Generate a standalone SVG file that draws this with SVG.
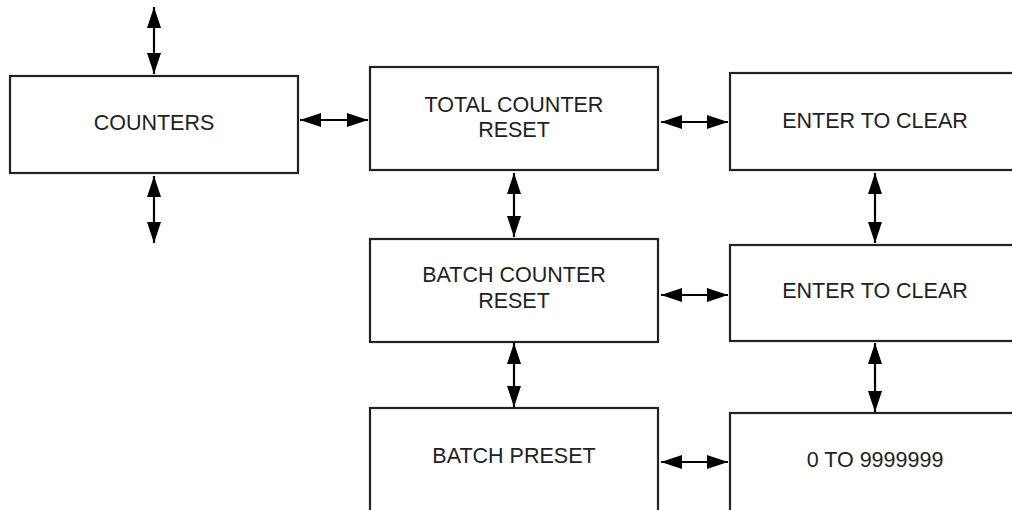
<svg xmlns="http://www.w3.org/2000/svg" width="1012" height="510" viewBox="0 0 1012 510">
<style>
.box{fill:#fff;stroke:#222;stroke-width:2.2}
.lbl{font-family:"Liberation Sans",Arial,sans-serif;font-size:21.5px;fill:#222;text-anchor:middle}
.con{stroke:#000;stroke-width:2.2;fill:none;marker-start:url(#ah);marker-end:url(#ah)}
</style>
<defs>
<marker id="ah" viewBox="0 0 21 14" refX="21" refY="7" markerWidth="21" markerHeight="14" markerUnits="userSpaceOnUse" orient="auto-start-reverse">
<path d="M0,0 L21,7 L0,14 z" fill="#000"/>
</marker>
</defs>
<rect width="1012" height="510" fill="#fff"/>
<g id="counters"><rect class="box" x="10" y="76" width="288" height="97"/><text class="lbl" x="154" y="130">COUNTERS</text></g>
<g id="total-reset"><rect class="box" x="370" y="67" width="288" height="103"/><text class="lbl" x="514" y="112">TOTAL COUNTER</text><text class="lbl" x="514" y="137">RESET</text></g>
<g id="enter1"><rect class="box" x="730" y="73" width="292" height="97"/><text class="lbl" x="875" y="128">ENTER TO CLEAR</text></g>
<g id="batch-reset"><rect class="box" x="370" y="239" width="288" height="103"/><text class="lbl" x="514" y="282">BATCH COUNTER</text><text class="lbl" x="514" y="308">RESET</text></g>
<g id="enter2"><rect class="box" x="730" y="245" width="292" height="96"/><text class="lbl" x="875" y="298">ENTER TO CLEAR</text></g>
<g id="batch-preset"><rect class="box" x="370" y="408" width="288" height="110"/><text class="lbl" x="514" y="463">BATCH PRESET</text></g>
<g id="range"><rect class="box" x="730" y="413" width="292" height="110"/><text class="lbl" x="875" y="467">0 TO 9999999</text></g>
<g id="connectors">
<line class="con" x1="154" y1="7" x2="154" y2="74"/>
<line class="con" x1="154" y1="176" x2="154" y2="243"/>
<line class="con" x1="300" y1="120" x2="368" y2="120"/>
<line class="con" x1="661" y1="122" x2="728" y2="122"/>
<line class="con" x1="661" y1="295" x2="728" y2="295"/>
<line class="con" x1="661" y1="462" x2="728" y2="462"/>
<line class="con" x1="514" y1="173" x2="514" y2="237"/>
<line class="con" x1="514" y1="343" x2="514" y2="407"/>
<line class="con" x1="875" y1="173" x2="875" y2="243"/>
<line class="con" x1="875" y1="343" x2="875" y2="412"/>
</g>
</svg>
